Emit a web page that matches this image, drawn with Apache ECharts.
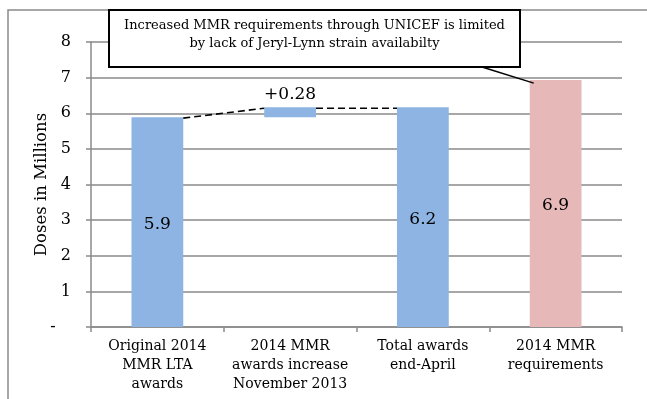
<!DOCTYPE html>
<html>
<head>
<meta charset="utf-8">
<script src="https://cdn.jsdelivr.net/npm/echarts@6/dist/echarts.min.js"></script>
<style>
  html, body { margin: 0; padding: 0; background: #fff; }
  #chart { width: 647px; height: 399px; }
</style>
</head>
<body>
<div id="chart"></div>
<script>
// Waterfall of 2014 MMR doses (millions)
const categories = [
  'Original 2014\nMMR LTA\nawards',
  '2014 MMR\nawards increase\nNovember 2013',
  'Total awards\nend-April',
  '2014 MMR\nrequirements'
];
const baseValues = [0, 5.89, 0, 0];          // invisible offset under each bar
const barValues = [5.89, 0.28, 6.17, 6.93];  // visible bar heights
const isIncrement = [false, true, false, false];
const barColors = ['#8DB4E2', '#8DB4E2', '#8DB4E2', '#E6B8B7'];
const yTicks = [0, 1, 2, 3, 4, 5, 6, 7, 8];
const noteLines = [
  'Increased MMR requirements through UNICEF is limited',
  'by lack of Jeryl-Lynn strain availabilty'
];

const FONT = 'DejaVu Serif';
const BAR_RATIO = 0.39;
const GRID = { left: 91, right: 25, top: 42, bottom: 72 };
const GREY = '#8a8a8a';

// dashed connectors: [fromIndex, fromValue, toIndex, toValue]
const connectors = [
  [0, baseValues[0] + barValues[0], 1, baseValues[1] + barValues[1]],
  [1, baseValues[1] + barValues[1], 2, baseValues[2] + barValues[2]]
];

const chart = echarts.init(document.getElementById('chart'), null, { renderer: 'canvas' });

const option = {
  backgroundColor: '#fff',
  animation: false,
  grid: GRID,
  xAxis: {
    type: 'category',
    data: categories,
    axisLine: { lineStyle: { color: GREY, width: 1.5 } },
    axisTick: { show: true, length: 5, lineStyle: { color: GREY, width: 1.5 } },
    axisLabel: {
      color: '#000', fontFamily: FONT, fontSize: 14, lineHeight: 19,
      margin: 10, interval: 0
    }
  },
  yAxis: {
    type: 'value',
    min: yTicks[0],
    max: yTicks[yTicks.length - 1],
    interval: 1,
    name: 'Doses in Millions',
    nameLocation: 'middle',
    nameGap: 41,
    nameMoveOverlap: false,
    nameTextStyle: { color: '#000', fontFamily: FONT, fontSize: 16.5 },
    axisLine: { show: true, lineStyle: { color: GREY, width: 1.5 } },
    axisTick: { show: true, length: 5, lineStyle: { color: GREY, width: 1.5 } },
    axisLabel: {
      color: '#000', fontFamily: FONT, fontSize: 16, margin: 20,
      formatter: v => (v === 0 ? '-   ' : String(v))
    },
    splitLine: { lineStyle: { color: GREY, width: 1.5 } }
  },
  series: [
    {
      name: 'base',
      type: 'bar',
      stack: 'waterfall',
      barWidth: (BAR_RATIO * 100) + '%',
      itemStyle: { color: 'transparent' },
      emphasis: { disabled: true },
      data: baseValues
    },
    {
      name: 'doses',
      type: 'bar',
      stack: 'waterfall',
      barWidth: (BAR_RATIO * 100) + '%',
      data: barValues.map((v, i) => ({
        value: v,
        itemStyle: { color: barColors[i] },
        label: isIncrement[i]
          ? { show: true, position: 'top', distance: 4 }
          : { show: true, position: 'inside', offset: [0, 2] }
      })),
      label: {
        color: '#000', fontFamily: FONT, fontSize: 17,
        formatter: p => (isIncrement[p.dataIndex] ? '+' + p.value.toFixed(2) : p.value.toFixed(1))
      }
    },
    {
      name: 'connectors',
      type: 'custom',
      silent: true,
      z: 5,
      data: connectors,
      renderItem: (params, api) => {
        const band = api.size([1, 0])[0];
        const half = band * BAR_RATIO / 2;
        const a = api.coord([api.value(0), api.value(1)]);
        const b = api.coord([api.value(2), api.value(3)]);
        return {
          type: 'line',
          shape: { x1: a[0] + half, y1: a[1] + 1, x2: b[0] - half, y2: b[1] + 1 },
          style: { stroke: '#000', lineWidth: 1.6, lineDash: [7, 4] }
        };
      }
    }
  ]
};
chart.setOption(option);

// Callout box and outer frame, with a leader to the requirements bar
const boxX = 109, boxY = 10, boxW = 411, boxH = 57;
const target = chart.convertToPixel({ xAxisIndex: 0, yAxisIndex: 0 }, [3, baseValues[3] + barValues[3]]);
const bandPx = chart.convertToPixel({ xAxisIndex: 0 }, 1) - chart.convertToPixel({ xAxisIndex: 0 }, 0);
const barLeft = target[0] - bandPx * BAR_RATIO / 2;

chart.setOption({
  graphic: [
    {
      type: 'polyline', z: 0, silent: true,
      shape: { points: [[8, 399], [8, 10], [647, 10]] },
      style: { fill: null, stroke: GREY, lineWidth: 1.5 }
    },
    {
      type: 'line', z: 20, silent: true,
      shape: { x1: 482, y1: boxY + boxH, x2: barLeft + 4, y2: target[1] + 3 },
      style: { stroke: '#000', lineWidth: 1.5 }
    },
    {
      type: 'rect', z: 21, silent: true,
      shape: { x: boxX, y: boxY, width: boxW, height: boxH },
      style: { fill: '#fff', stroke: '#000', lineWidth: 2 }
    },
    {
      type: 'text', z: 22, silent: true,
      x: boxX + boxW / 2, y: 26,
      style: { text: noteLines[0], fill: '#000', font: '13px "' + FONT + '"', align: 'center', verticalAlign: 'middle' }
    },
    {
      type: 'text', z: 22, silent: true,
      x: boxX + boxW / 2, y: 44,
      style: { text: noteLines[1], fill: '#000', font: '13px "' + FONT + '"', align: 'center', verticalAlign: 'middle' }
    }
  ]
});
</script>
</body>
</html>
